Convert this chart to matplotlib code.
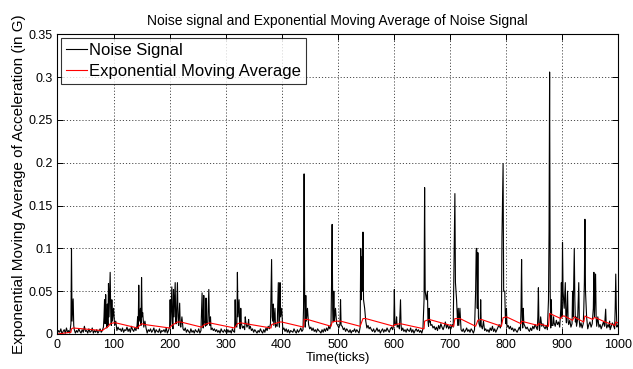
import numpy as np
import matplotlib
matplotlib.use("Agg")
import matplotlib.pyplot as plt

plt.rcParams['font.family'] = ['Liberation Sans', 'DejaVu Sans']

# baseline noise, one value every 2 ticks, in thousandths of G
base_step = 2
noise_base_milli = [
    1, 4, 2, 6, 0, 3, 5, 1, 7, 2, 4, 1, 3, 8, 2, 5, 1, 4, 2, 6, 3, 1, 5, 2, 9,
    3, 4, 1, 6, 2, 3, 7, 1, 4, 2, 5, 1, 3, 6, 2, 4, 8, 3, 5, 7, 4, 9, 6, 10, 5,
    12, 7, 9, 4, 8, 5, 6, 3, 7, 2, 5, 4, 8, 3, 6, 2, 9, 5, 3, 7, 4, 10, 6, 8, 3,
    5, 2, 6, 4, 7, 1, 5, 3, 6, 2, 4, 7, 1, 5, 3, 2, 6, 1, 4, 3, 5, 2, 7, 1, 4,
    8, 5, 11, 6, 9, 4, 12, 7, 10, 5, 8, 3, 6, 4, 7, 2, 5, 3, 1, 6, 2, 4, 1, 5, 3,
    2, 6, 1, 4, 3, 7, 5, 9, 6, 12, 8, 10, 5, 7, 4, 6, 3, 5, 2, 4, 1, 6, 3, 2, 5,
    3, 1, 5, 2, 4, 1, 6, 3, 2, 5, 8, 4, 10, 6, 12, 7, 9, 5, 14, 8, 11, 6, 9, 4, 6,
    2, 5, 3, 1, 4, 2, 6, 3, 1, 5, 2, 7, 4, 9, 6, 12, 8, 15, 10, 7, 11, 9, 13, 8, 10,
    9, 5, 7, 3, 6, 2, 5, 1, 4, 3, 2, 6, 3, 1, 5, 2, 4, 7, 3, 5, 12, 8, 14, 9, 11,
    6, 8, 4, 7, 3, 5, 2, 6, 4, 3, 1, 5, 2, 6, 3, 7, 4, 9, 6, 12, 8, 14, 10, 8, 12,
    10, 7, 12, 8, 9, 5, 7, 3, 6, 4, 2, 5, 1, 4, 3, 6, 2, 5, 3, 1, 8, 4, 10, 6, 9,
    12, 7, 10, 6, 8, 5, 3, 6, 2, 4, 7, 3, 5, 1, 4, 6, 2, 5, 3, 7, 4, 2, 6, 8, 5,
    11, 7, 12, 8, 10, 6, 9, 4, 7, 3, 5, 2, 6, 4, 3, 7, 2, 5, 1, 4, 6, 3, 5, 2, 4,
    1, 6, 3, 5, 8, 12, 9, 14, 10, 11, 7, 9, 5, 8, 4, 10, 6, 12, 8, 5, 9, 14, 7, 11, 6,
    9, 6, 11, 8, 13, 9, 7, 10, 6, 8, 5, 3, 6, 2, 4, 7, 3, 5, 2, 6, 4, 1, 5, 3, 7,
    9, 12, 8, 10, 6, 8, 4, 6, 3, 5, 2, 7, 4, 9, 3, 6, 2, 5, 8, 11, 7, 12, 9, 6, 10,
    12, 8, 10, 6, 9, 5, 7, 3, 6, 4, 2, 5, 8, 4, 10, 7, 12, 9, 6, 8, 5, 3, 7, 4, 9,
    6, 11, 8, 5, 7, 4, 6, 9, 12, 8, 6, 10, 5, 8, 12, 7, 15, 10, 13, 9, 16, 11, 14, 8, 12,
    15, 10, 18, 9, 13, 7, 11, 16, 8, 12, 6, 10, 14, 9, 17, 11, 8, 13, 7, 12, 10, 15, 9, 6, 11,
    14, 8, 12, 7, 10, 5, 9, 13, 8, 11, 6, 10, 14, 9, 12, 7, 11, 8, 5, 9, 13, 10, 6, 12, 8,
]

# spikes of the noise signal (tick, G)
spike_ticks = [
    24, 25, 26, 28, 29,
    83, 84, 85, 86, 87, 89, 90, 91, 92, 94, 95, 97, 98, 100, 102, 104,
    143, 145, 146, 148, 149, 150, 151, 152, 154, 156,
    201, 202, 204, 205, 207, 208, 210, 211, 214, 215, 218, 219, 222,
    258, 259, 261, 262, 265, 266, 270, 271, 273,
    317, 318, 321, 322, 324, 325, 327, 329, 335, 341,
    382, 383, 385, 386, 388, 389, 394, 395, 397, 398, 400,
    439, 440, 441, 443, 444, 446,
    489, 490, 491, 493, 494, 496, 505, 506,
    541, 542, 543, 544, 545, 546, 548, 550,
    601, 602, 605, 612, 613,
    654, 655, 656, 658, 660, 661, 663, 665,
    708, 709, 710, 712, 715, 716, 718,
    746, 747, 748, 749, 750, 751, 755, 756, 760,
    793, 794, 795, 796, 798, 799, 801,
    827, 828, 829, 831,
    857, 858, 859, 862,
    876, 877, 878, 879, 881, 882, 885,
    898, 899, 900, 901, 902, 904, 906, 907, 910, 911,
    919, 920, 922, 923, 925, 930, 931,
    939, 940, 941, 942, 944,
    956, 957, 958, 960, 961, 964,
    978, 979, 985,
    995, 996, 997, 999,
]
spike_vals = [
    0.012, 0.1, 0.015, 0.041, 0.01,
    0.02, 0.04, 0.012, 0.046, 0.02, 0.035, 0.01, 0.059, 0.02, 0.072, 0.025, 0.04, 0.015, 0.03, 0.01, 0.015,
    0.02, 0.057, 0.015, 0.03, 0.01, 0.066, 0.02, 0.025, 0.008, 0.015,
    0.04, 0.01, 0.055, 0.015, 0.052, 0.02, 0.06, 0.012, 0.06, 0.02, 0.036, 0.01, 0.02,
    0.048, 0.01, 0.045, 0.015, 0.042, 0.01, 0.052, 0.015, 0.02,
    0.04, 0.01, 0.072, 0.02, 0.04, 0.012, 0.03, 0.01, 0.02, 0.017,
    0.087, 0.02, 0.035, 0.01, 0.03, 0.008, 0.06, 0.015, 0.06, 0.02, 0.03,
    0.03, 0.187, 0.04, 0.045, 0.015, 0.03,
    0.06, 0.128, 0.03, 0.05, 0.015, 0.03, 0.04, 0.01,
    0.1, 0.04, 0.09, 0.05, 0.119, 0.04, 0.03, 0.015,
    0.052, 0.01, 0.02, 0.04, 0.01,
    0.04, 0.171, 0.05, 0.04, 0.05, 0.015, 0.03, 0.015,
    0.11, 0.164, 0.06, 0.04, 0.03, 0.01, 0.03,
    0.05, 0.098, 0.1, 0.03, 0.095, 0.02, 0.04, 0.01, 0.015,
    0.113, 0.16, 0.199, 0.05, 0.05, 0.02, 0.03,
    0.03, 0.087, 0.02, 0.03,
    0.02, 0.054, 0.01, 0.02,
    0.04, 0.12, 0.306, 0.05, 0.04, 0.01, 0.02,
    0.03, 0.06, 0.02, 0.107, 0.05, 0.03, 0.06, 0.02, 0.05, 0.015,
    0.05, 0.02, 0.1, 0.04, 0.02, 0.06, 0.015,
    0.03, 0.06, 0.134, 0.05, 0.02,
    0.03, 0.072, 0.02, 0.07, 0.02, 0.02,
    0.029, 0.01, 0.015,
    0.03, 0.07, 0.03, 0.01,
]

# exponential moving average, read at its corners
ema_ticks = [
    0, 24, 25, 28, 80, 84, 91, 94, 100, 104, 143, 145, 150, 156, 200, 204, 214, 220,
    257, 262, 271, 316, 321, 327, 381, 382, 397, 400, 439, 440, 446, 488, 490, 497,
    505, 540, 545, 550, 600, 601, 612, 654, 655, 663, 707, 709, 718, 746, 750, 756,
    792, 795, 801, 827, 828, 833, 857, 858, 876, 878, 898, 901, 904, 919, 922, 924,
    939, 941, 944, 955, 957, 960, 977, 995, 996, 1000,
]
ema_vals = [
    0.0, 0.002, 0.006, 0.007, 0.004, 0.006, 0.009, 0.012, 0.013, 0.013, 0.007, 0.009, 0.012, 0.011,
    0.007, 0.01, 0.014, 0.014, 0.008, 0.011, 0.013, 0.007, 0.012, 0.013, 0.007, 0.011, 0.014, 0.014,
    0.008, 0.017, 0.017, 0.009, 0.014, 0.015, 0.015, 0.009, 0.018, 0.018, 0.009, 0.011, 0.012,
    0.006, 0.015, 0.017, 0.009, 0.018, 0.018, 0.009, 0.016, 0.017, 0.009, 0.019, 0.02, 0.012,
    0.015, 0.014, 0.01, 0.012, 0.009, 0.024, 0.018, 0.021, 0.021, 0.016, 0.02, 0.019, 0.014,
    0.021, 0.02, 0.017, 0.019, 0.019, 0.014, 0.01, 0.014, 0.013,
]

# merge baseline and spikes into one signal
noise = {i * base_step: v / 1000.0 for i, v in enumerate(noise_base_milli)}
for t, v in zip(spike_ticks, spike_vals):
    noise[t] = v
noise_t = sorted(noise)
noise_v = [noise[t] for t in noise_t]

fig = plt.figure(figsize=(6.33, 3.69), dpi=100)
ax = fig.add_axes([0.0908, 0.0949, 0.8855, 0.812])

ax.plot(noise_t, noise_v, color='black', linewidth=0.8, label='Noise Signal')
ax.plot(ema_ticks, ema_vals, color='red', linewidth=0.8, label='Exponential Moving Average')

ax.set_xlim(0, 1000)
ax.set_ylim(0, 0.35)
ax.set_xticks(np.arange(0, 1001, 100))
ax.set_yticks(np.arange(0, 0.351, 0.05))
ax.set_yticklabels(['0', '0.05', '0.1', '0.15', '0.2', '0.25', '0.3', '0.35'])
ax.tick_params(direction='in', top=True, right=True, labelsize=9, length=4, width=0.7)
ax.grid(True, color='0.3', linestyle=(0, (1.2, 2)), linewidth=0.7)
for s in ax.spines.values():
    s.set_linewidth(0.8)

ax.set_title('Noise signal and Exponential Moving Average of Noise Signal', fontsize=10, pad=7)
ax.set_xlabel('Time(ticks)', fontsize=9.5, labelpad=1)
ax.set_ylabel('Exponential Moving Average of Acceleration (in G)', fontsize=11, labelpad=2)

leg = ax.legend(loc='upper left', fontsize=12, frameon=True, fancybox=False,
                handlelength=1.3, handletextpad=0.1, borderpad=0.3, labelspacing=0.35,
                borderaxespad=0.2)
leg.get_frame().set_edgecolor('black')
leg.get_frame().set_linewidth(0.8)

fig.savefig('out.png', dpi=100)
